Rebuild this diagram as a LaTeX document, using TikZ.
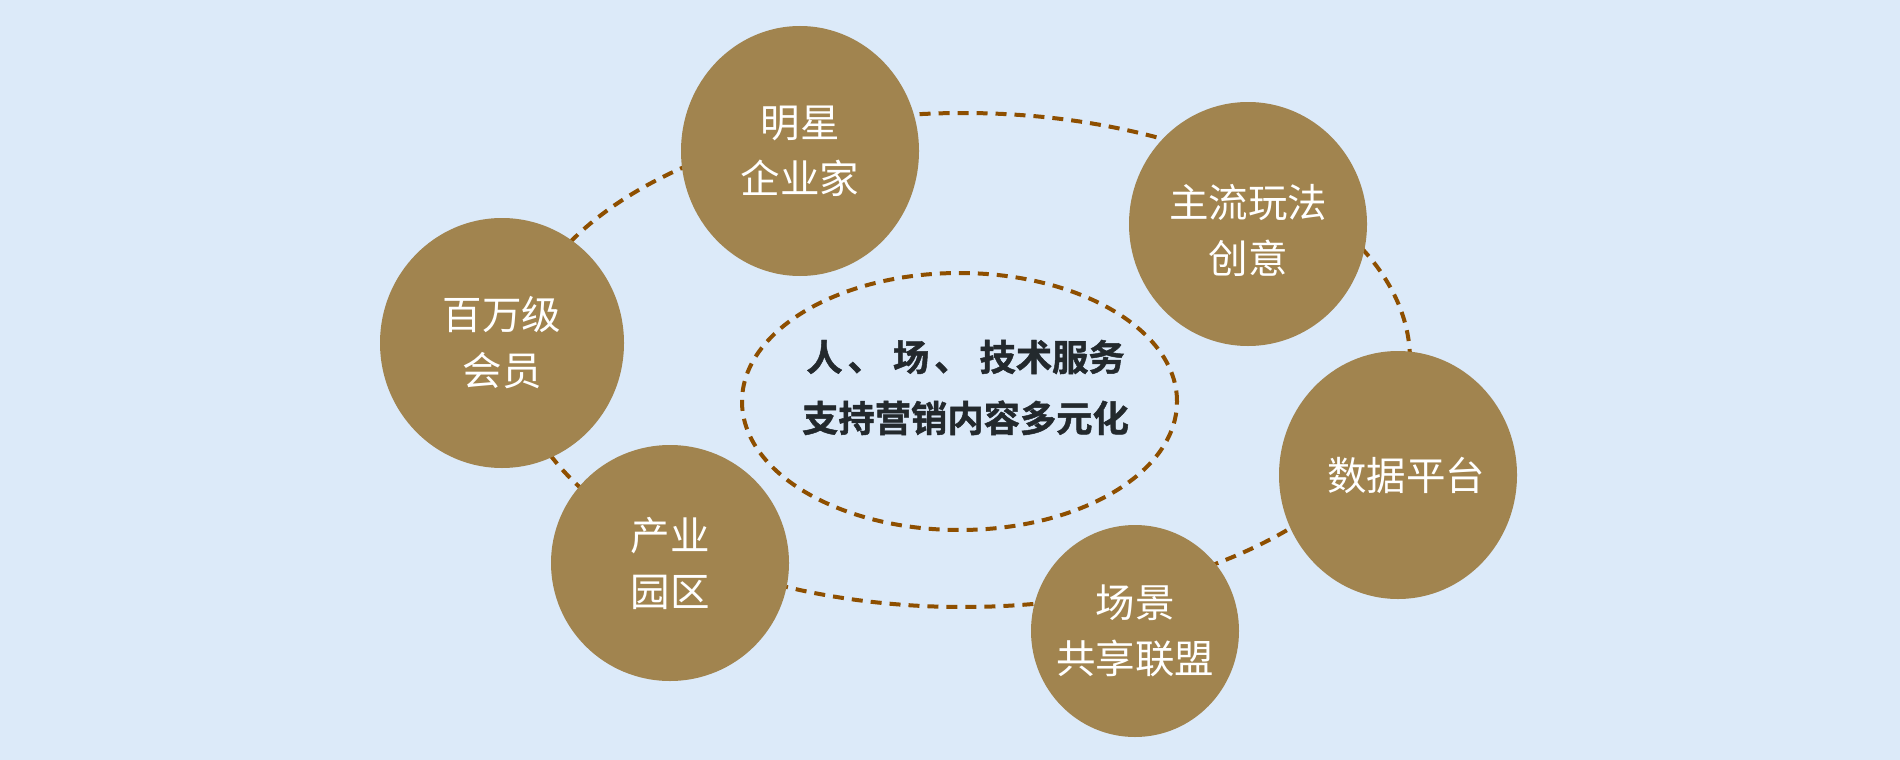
\documentclass[tikz,border=0pt]{standalone}
\usepackage{fontspec}
\setmainfont{Noto Sans CJK SC}[BoldFont={Noto Sans CJK SC Bold}]
\newfontfamily\heavyfont{Noto Sans CJK SC Bold}[FakeBold=1.3]
\usetikzlibrary{shapes.geometric}
\definecolor{bgblue}{HTML}{DCEAF9}
\definecolor{gold}{HTML}{A1844F}
\definecolor{dashbrown}{HTML}{8E4F00}
\definecolor{darktext}{HTML}{23292D}
\tikzset{
  circ/.style={ellipse, fill=gold, draw=none, inner sep=0pt},
  ctext/.style={text=white, align=center, font=\fontsize{39.5}{56}\selectfont},
  dashring/.style={ellipse, draw=dashbrown, line width=4pt, dash pattern=on 11pt off 8pt, inner sep=0pt},
  centertext/.style={text=darktext, align=center, font=\heavyfont\fontsize{36.3}{61}\selectfont}
}
\begin{document}
\begin{tikzpicture}[x=1pt,y=-1pt]
\fill[bgblue] (0,0) rectangle (1900,760);
\useasboundingbox (0,0) rectangle (1900,760);
% outer dashed ring
\node[dashring, minimum width=894pt, minimum height=494pt] (outer) at (963,360) {};
% circles
\node[circ, minimum width=238pt, minimum height=250pt] (a) at (800,151) {};
\node[circ, minimum width=238pt, minimum height=244pt] (b) at (1248,224) {};
\node[circ, minimum width=244pt, minimum height=250pt] (c) at (502,343) {};
\node[circ, minimum width=238pt, minimum height=248pt] (d) at (1398,475) {};
\node[circ, minimum width=238pt, minimum height=236pt] (e) at (670,563) {};
\node[circ, minimum width=208pt, minimum height=212pt] (f) at (1135,631) {};
% circle texts
\node[ctext] (ta) at (a) {明星\\企业家};
\node[ctext] (tb) at ([yshift=-6pt]b.center) {主流玩法\\创意};
\node[ctext] (tc) at (c) {百万级\\会员};
\node[ctext] (td) at ([xshift=8pt]d.center) {数据平台};
\node[ctext] (te) at (e) {产业\\园区};
\node[ctext] (tf) at (f) {场景\\共享联盟};
% inner dashed ring and text
\node[dashring, minimum width=435pt, minimum height=257pt] (inner) at (959.5,401.5) {};
\node[centertext] (ct) at ([xshift=6pt,yshift=14pt]inner.center) {人\hspace{5pt}、\hspace{9pt}场\hspace{5pt}、\hspace{9pt}技术服务\\支持营销内容多元化};
\end{tikzpicture}
\end{document}
